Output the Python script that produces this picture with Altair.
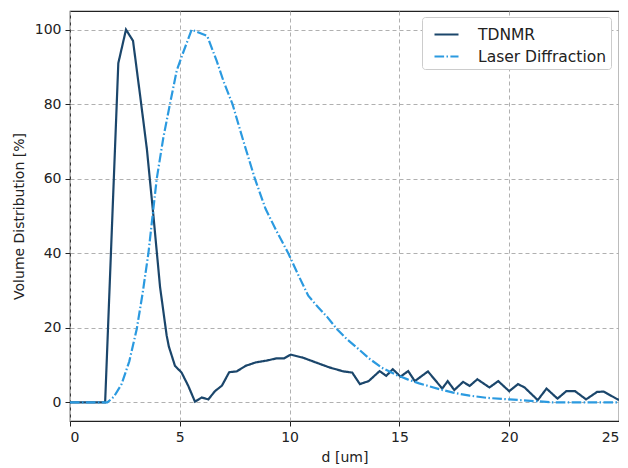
import altair as alt
import pandas as pd

series_names = ["TDNMR", "Laser Diffraction"]

tdnmr_d = [0, 1.6, 2.2, 2.55, 2.87, 3.2, 3.5, 3.8, 4.1, 4.4, 4.5, 4.78, 5.08, 5.38,
           5.69, 6.0, 6.3, 6.6, 6.92, 7.25, 7.59, 8.0, 8.45, 8.95, 9.4, 9.75, 10.05,
           10.6, 11.2, 11.8, 12.45, 12.85, 13.2, 13.6, 14.1, 14.4, 14.7, 15.05, 15.4,
           15.7, 16.3, 16.95, 17.2, 17.5, 17.9, 18.2, 18.55, 19.1, 19.5, 20.0, 20.4,
           20.7, 21.3, 21.7, 22.2, 22.6, 23.0, 23.5, 24.0, 24.3, 25.0]
tdnmr_v = [0, 0, 91, 100, 97, 82, 68, 50, 31, 18, 15, 9.8, 8, 4.5,
           0.2, 1.3, 0.8, 3, 4.5, 8.1, 8.3, 9.8, 10.7, 11.2, 11.8, 11.8, 12.8,
           12.0, 10.7, 9.4, 8.3, 8.0, 4.9, 5.7, 8.4, 7.1, 8.9, 6.9, 8.4,
           5.7, 8.3, 3.7, 5.7, 3.3, 5.5, 4.4, 6.2, 4.0, 5.7, 3.0, 4.9,
           4.0, 0.6, 3.7, 1.0, 3.0, 3.0, 0.8, 2.8, 2.9, 0.6]

laser_d = [0, 1.7, 2.0, 2.35, 2.7, 3.04, 3.3, 3.57, 3.95, 4.25, 4.55, 4.86, 5.1,
           5.54, 6.25, 6.68, 7.0, 7.4, 7.9, 8.42, 8.9, 9.4, 9.94, 10.45, 10.85,
           11.3, 11.7, 12.15, 12.6, 13.1, 13.66, 14.2, 14.88, 15.4, 15.9, 16.85,
           17.45, 18.2, 19.0, 20.0, 21.25, 22.0, 25.0]
laser_v = [0, 0, 1.5, 4.9, 11, 19.7, 29, 40, 60, 71, 80, 89, 93,
           100, 98.3, 91.6, 86, 80, 70, 60, 52, 46, 40, 33.5, 28.6,
           25.5, 23, 19.7, 17, 14.5, 11.6, 9.3, 7.3, 6.1, 5.1, 3.5,
           2.6, 1.8, 1.2, 0.8, 0.3, 0, 0]

x_ticks = [0, 5, 10, 15, 20, 25]
y_ticks = [0, 20, 40, 60, 80, 100]

rows = []
for i, (d, v) in enumerate(zip(tdnmr_d, tdnmr_v)):
    rows.append({"d": d, "v": v, "series": series_names[0], "order": i})
for i, (d, v) in enumerate(zip(laser_d, laser_v)):
    rows.append({"d": d, "v": v, "series": series_names[1], "order": i})
df = pd.DataFrame(rows)

colors = ["#1b466b", "#2b9ae0"]
dashes = [[1, 0], [9.6, 2.4, 1.5, 2.4]]

font = "DejaVu Sans"

chart = alt.Chart(df).mark_line(strokeWidth=2.2, clip=True).encode(
    x=alt.X("d:Q", title="d [um]",
            scale=alt.Scale(domain=[0, 25], nice=False, zero=False),
            axis=alt.Axis(values=x_ticks, format="d")),
    y=alt.Y("v:Q", title="Volume Distribution [%]",
            scale=alt.Scale(domain=[-5, 105], nice=False, zero=False),
            axis=alt.Axis(values=y_ticks, format="d")),
    color=alt.Color("series:N", title=None,
                    scale=alt.Scale(domain=series_names, range=colors),
                    legend=alt.Legend(orient="none", legendX=352, legendY=6)),
    strokeDash=alt.StrokeDash("series:N", title=None,
                              scale=alt.Scale(domain=series_names, range=dashes),
                              legend=alt.Legend(orient="none", legendX=352, legendY=6)),
    order="order:Q",
).properties(
    width=549, height=410,
    autosize=alt.AutoSizeParams(type="none"),
    padding={"left": 62, "top": 3, "right": 0, "bottom": 46},
).configure_view(
    stroke="#222222", strokeWidth=1.2
).configure_axis(
    labelFont=font, titleFont=font, labelFontSize=14, titleFontSize=14,
    titleFontWeight="normal", labelColor="#222", titleColor="#222",
    domain=False, tickColor="#222", tickSize=5, tickWidth=1,
    grid=True, gridDash=[4, 3], gridColor="#b0b0b0", gridWidth=1,
    labelPadding=4,
).configure_axisY(
    titlePadding=8
).configure_axisX(
    titlePadding=6
).configure_legend(
    labelFont=font, labelFontSize=15.5, labelColor="#222",
    symbolType="stroke", symbolSize=576, symbolStrokeWidth=2.2,
    symbolOffset=7,
    strokeColor="#cccccc", fillColor="white", padding=4, cornerRadius=3,
    rowPadding=0, labelOffset=18, labelLimit=300,
)

chart.save("out.html", embed_options={"renderer": "svg", "actions": False})
